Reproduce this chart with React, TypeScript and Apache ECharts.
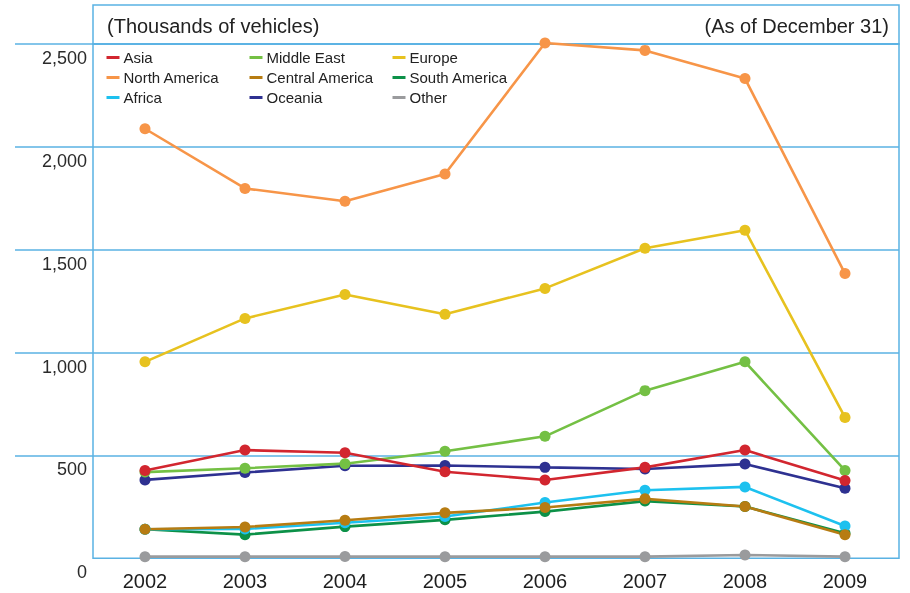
import React, { useEffect, useRef } from "react";
import * as echarts from "echarts";

const years = ["2002", "2003", "2004", "2005", "2006", "2007", "2008", "2009"];
const yTicks = [0, 500, 1000, 1500, 2000, 2500];

const asia = [427, 526, 513, 421, 381, 442, 526, 378];
const northAmerica = [2088, 1798, 1736, 1868, 2505, 2469, 2332, 1384];
const africa = [141, 143, 173, 203, 271, 331, 347, 157];
const middleEast = [419, 438, 460, 520, 593, 815, 955, 427];
const centralAmerica = [141, 152, 185, 221, 247, 289, 252, 114];
const oceania = [381, 417, 450, 451, 442, 434, 458, 341];
const europe = [955, 1166, 1282, 1186, 1312, 1507, 1595, 685];
const southAmerica = [141, 115, 154, 187, 227, 278, 252, 122];
const other = [8, 8, 9, 8, 8, 8, 16, 8];

const seriesDefs = [
  { name: "Other", data: other, color: "#9a9b9d" },
  { name: "South America", data: southAmerica, color: "#0c9148" },
  { name: "Africa", data: africa, color: "#1dc1ef" },
  { name: "Central America", data: centralAmerica, color: "#b77c12" },
  { name: "Oceania", data: oceania, color: "#2e3191" },
  { name: "Middle East", data: middleEast, color: "#74c044" },
  { name: "Asia", data: asia, color: "#d2262f" },
  { name: "Europe", data: europe, color: "#e7c21f" },
  { name: "North America", data: northAmerica, color: "#f79548" },
];

const legendCols = [
  ["Asia", "North America", "Africa"],
  ["Middle East", "Central America", "Oceania"],
  ["Europe", "South America", "Other"],
];
const legendLeft = [106.5, 249.5, 392.5];

const BLUE = "#5ab2e3";
const FONT = "Liberation Sans, Arial, sans-serif";

export default function App() {
  const ref = useRef<HTMLDivElement>(null);
  useEffect(() => {
    const chart = echarts.init(ref.current!, null, { renderer: "svg" });
    const yMin = yTicks[0];
    const yMax = yTicks[yTicks.length - 1];
    chart.setOption({
      animation: false,
      textStyle: { fontFamily: FONT },
      grid: [
        { left: 15, right: 11, top: 44, bottom: 34.7 },
        {
          left: 93,
          right: 11,
          top: 44,
          bottom: 34.7,
          show: true,
          borderColor: BLUE,
          borderWidth: 1.5,
          backgroundColor: "transparent",
        },
        { left: 95, right: 15, top: 44, bottom: 34.7 },
      ],
      xAxis: [
        { gridIndex: 0, type: "category", data: years, show: false },
        { gridIndex: 1, type: "category", data: years, show: false },
        {
          gridIndex: 2,
          type: "category",
          data: years,
          boundaryGap: true,
          axisLine: { show: false },
          axisTick: { show: false },
          splitLine: { show: false },
          axisLabel: {
            fontSize: 20,
            color: "#1e1e1e",
            margin: 13,
            fontFamily: FONT,
          },
        },
      ],
      yAxis: [
        {
          gridIndex: 0,
          type: "value",
          min: yMin,
          max: yMax,
          interval: 500,
          axisLine: { show: false },
          axisTick: { show: false },
          axisLabel: { show: false },
          splitLine: {
            show: true,
            lineStyle: {
              color: ["transparent", BLUE, BLUE, BLUE, BLUE, BLUE],
              width: 1.5,
            },
          },
        },
        {
          gridIndex: 1,
          type: "value",
          min: yMin,
          max: yMax,
          interval: 500,
          axisLine: { show: false },
          axisTick: { show: false },
          splitLine: { show: false },
          axisLabel: {
            fontSize: 18,
            color: "#2a2a2a",
            margin: 6,
            verticalAlign: "top",
            padding: [5, 0, 0, 0],
            fontFamily: FONT,
            formatter: (v: number) => v.toLocaleString("en-US"),
          },
        },
        {
          gridIndex: 2,
          type: "value",
          min: yMin,
          max: yMax,
          interval: 500,
          show: false,
          splitLine: { show: false },
        },
      ],
      legend: legendCols.map((col, i) => ({
        data: col,
        orient: "vertical",
        left: legendLeft[i],
        top: 47.5,
        padding: 0,
        itemGap: 0,
        itemWidth: 13,
        itemHeight: 3,
        icon: "rect",
        selectedMode: false,
        textStyle: {
          fontSize: 15,
          lineHeight: 20,
          color: "#222",
          fontFamily: FONT,
          padding: [0, 0, 0, -1],
        },
      })),
      graphic: [
        {
          type: "rect",
          shape: { x: 93, y: 5, width: 806, height: 39 },
          style: { fill: "none", stroke: BLUE, lineWidth: 1.5 },
        },
        {
          type: "text",
          x: 107,
          y: 26,
          style: {
            text: "(Thousands of vehicles)",
            font: `20px ${FONT}`,
            fill: "#222",
            verticalAlign: "middle",
          },
        },
        {
          type: "text",
          x: 889,
          y: 26,
          style: {
            text: "(As of December 31)",
            font: `20px ${FONT}`,
            fill: "#222",
            align: "right",
            verticalAlign: "middle",
          },
        },
      ],
      series: seriesDefs.map((s) => ({
        name: s.name,
        type: "line",
        xAxisIndex: 2,
        yAxisIndex: 2,
        data: s.data,
        clip: false,
        symbol: "circle",
        symbolSize: 11,
        showSymbol: true,
        color: s.color,
        lineStyle: { width: 2.6, color: s.color },
        itemStyle: { color: s.color },
      })),
    });
    return () => chart.dispose();
  }, []);
  return (
    <div
      ref={ref}
      style={{ position: "fixed", left: 0, top: 0, width: 910, height: 593 }}
    />
  );
}
